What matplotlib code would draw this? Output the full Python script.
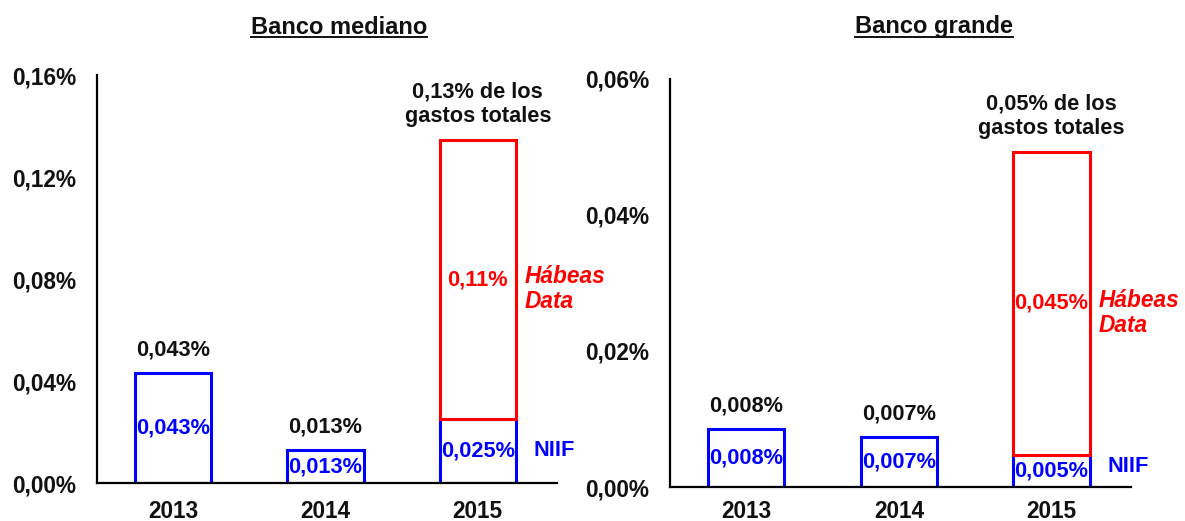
import numpy as np
import matplotlib
matplotlib.use('Agg')
import matplotlib.pyplot as plt
from matplotlib.lines import Line2D

plt.rcParams['font.family'] = ['Liberation Sans', 'DejaVu Sans']

# datos
years = ['2013', '2014', '2015']

med_niif = [0.0431, 0.0129, 0.0251]
med_habeas_2015 = 0.1094
med_niif_lbl = ['0,043%', '0,013%', '0,025%']
med_top_lbl = ['0,043%', '0,013%', '0,13% de los\ngastos totales']
med_habeas_lbl = '0,11%'
med_yticks = [0.0, 0.04, 0.08, 0.12, 0.16]

gra_niif = [0.0085, 0.0073, 0.0047]
gra_habeas_2015 = 0.0446
gra_niif_lbl = ['0,008%', '0,007%', '0,005%']
gra_top_lbl = ['0,008%', '0,007%', '0,05% de los\ngastos totales']
gra_habeas_lbl = '0,045%'
gra_yticks = [0.0, 0.02, 0.04, 0.06]

BLUE = '#0000ff'
RED = '#ff0000'
FS = 15.7

fig = plt.figure(figsize=(11.85, 5.21), dpi=100)
ax1 = fig.add_axes([97/1185, 1-483/521, (557-97)/1185, (483-75)/521])
ax2 = fig.add_axes([670/1185, 1-487/521, (1131-670)/1185, (487-79)/521])


def panel(ax, niif, habeas, niif_lbl, top_lbl, habeas_lbl, yticks, niif_dy, xpad):
    x = np.arange(len(years))
    ax.bar(x, niif, width=0.5, facecolor='white', edgecolor=BLUE, linewidth=2.2, zorder=2)
    ax.bar(x[-1], habeas, bottom=niif[-1], width=0.5, facecolor='white',
           edgecolor=RED, linewidth=2.2, zorder=3)
    tops = list(niif)
    tops[-1] = niif[-1] + habeas
    for i in x:
        ax.text(i, niif[i] / 2, niif_lbl[i], color=BLUE, fontsize=FS, fontweight='bold',
                ha='center', va='center', zorder=5)
        ax.annotate(top_lbl[i], (i, tops[i]), xytext=(0, 13), textcoords='offset points',
                    ha='center', va='baseline', fontsize=FS, fontweight='bold',
                    color='#111111', multialignment='center')
    mid = niif[-1] + habeas / 2
    ax.text(x[-1], mid, habeas_lbl, color=RED, fontsize=FS, fontweight='bold',
            ha='center', va='center', zorder=5)
    ax.annotate('Hábeas\nData', (x[-1] + 0.25, mid), xytext=(6, -7), textcoords='offset points',
                ha='left', va='center', color=RED, fontsize=16.3, fontweight='bold',
                fontstyle='italic', linespacing=1.12)
    ax.annotate('NIIF', (x[-1] + 0.25, niif[-1] / 2), xytext=(13, niif_dy),
                textcoords='offset points', ha='left', va='center', color=BLUE,
                fontsize=FS, fontweight='bold')

    ax.set_xlim(-0.5, 2.52)
    ax.set_ylim(0, yticks[-1])
    ax.set_yticks(yticks)
    ax.set_yticklabels([f'{v:.2f}%'.replace('.', ',') for v in yticks])
    ax.set_xticks(x)
    ax.set_xticklabels(years)
    ax.tick_params(length=0, labelsize=16.3)
    ax.tick_params(axis='y', pad=15)
    ax.tick_params(axis='x', pad=xpad)
    for lab in ax.get_xticklabels() + ax.get_yticklabels():
        lab.set_fontweight('bold')
        lab.set_color('#111111')
    for s in ['top', 'right']:
        ax.spines[s].set_visible(False)
    for s in ['left', 'bottom']:
        ax.spines[s].set_linewidth(1.6)
        ax.spines[s].set_color('black')
        ax.spines[s].set_zorder(6)


panel(ax1, med_niif, med_habeas_2015, med_niif_lbl, med_top_lbl, med_habeas_lbl, med_yticks, 0, 12)
panel(ax2, gra_niif, gra_habeas_2015, gra_niif_lbl, gra_top_lbl, gra_habeas_lbl, gra_yticks, 3, 9)

# titulos subrayados
titles = []
for xc, txt in [(339, 'Banco mediano'), (934, 'Banco grande')]:
    titles.append(fig.text(xc/1185, 1-27/521, txt, ha='center', va='center',
                           fontsize=17, fontweight='bold', color='#111111'))
fig.canvas.draw()
r = fig.canvas.get_renderer()
for t in titles:
    bb = t.get_window_extent(r)
    y = 1 - 37/521
    fig.add_artist(Line2D([bb.x0/1185, bb.x1/1185], [y, y], transform=fig.transFigure,
                          color='#111111', linewidth=1.4))

fig.savefig('out.png', dpi=100)
